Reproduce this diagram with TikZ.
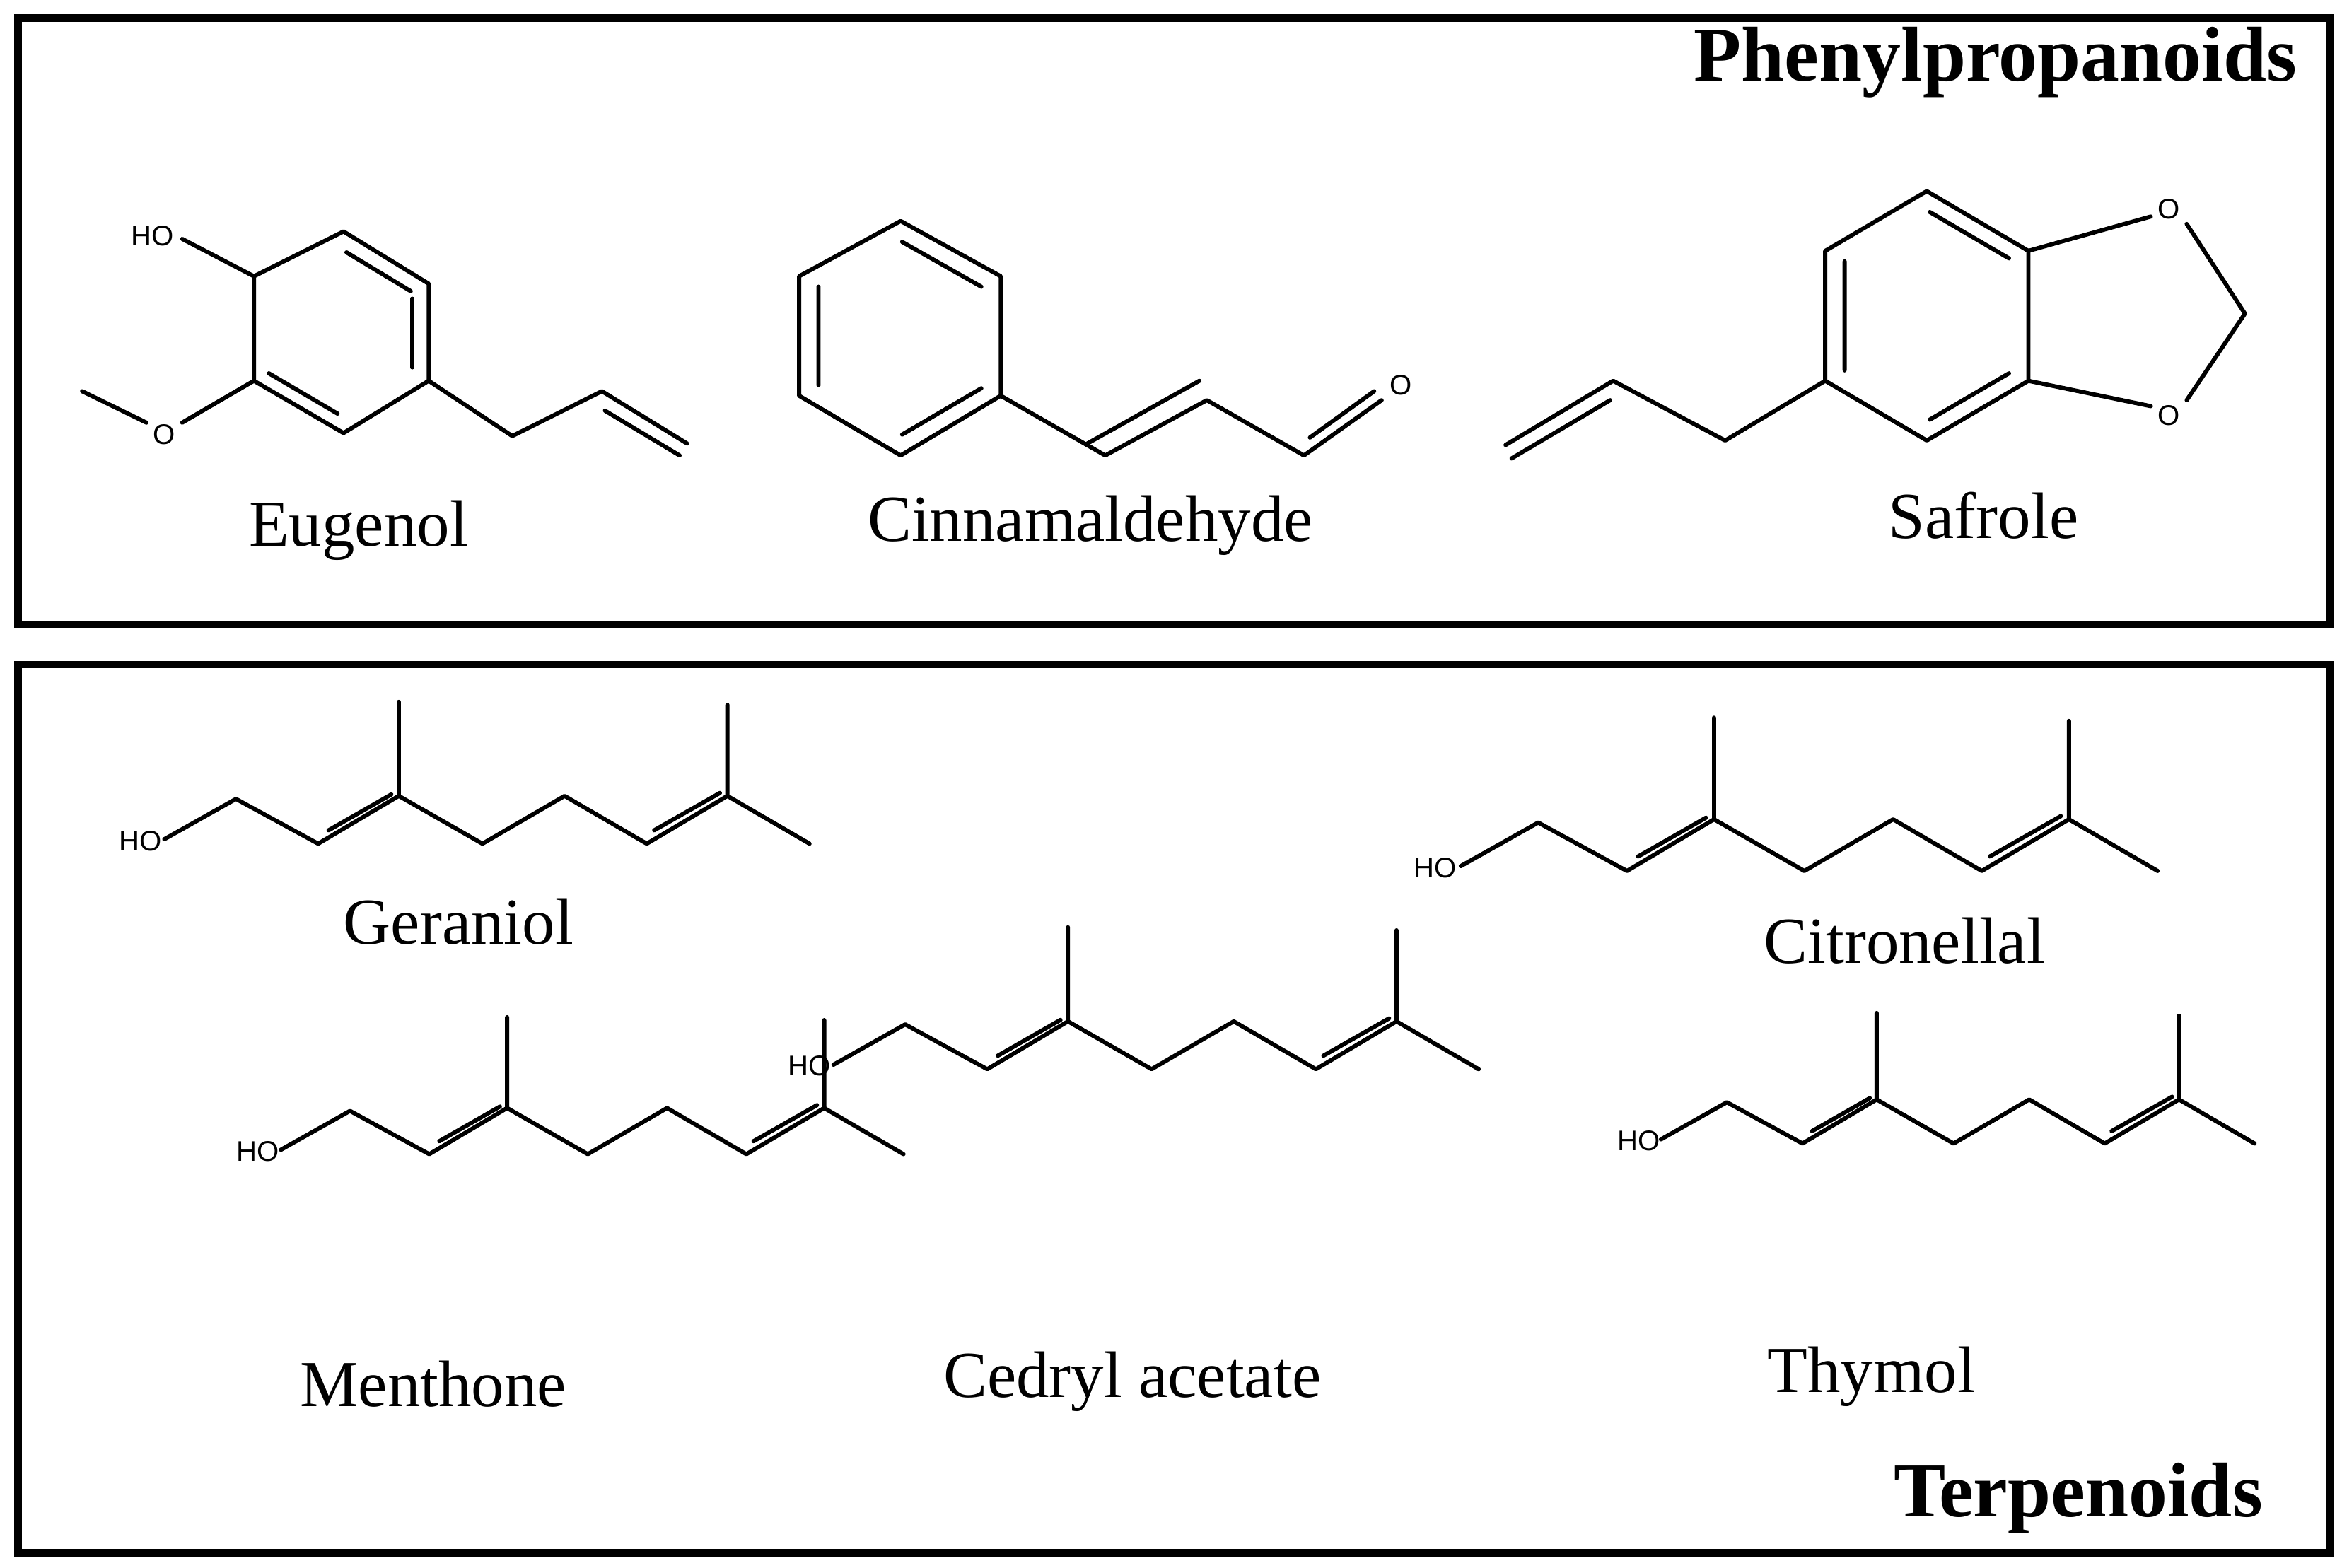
\documentclass[tikz,border=0pt]{standalone}
\usepackage{fontspec}
\setmainfont{Liberation Serif}
\newfontfamily\atomfont{Liberation Sans}
\tikzset{
  bond/.style={line width=2.8pt, line cap=round, line join=round},
  frame/.style={line width=5pt},
  atom/.style={font=\atomfont\fontsize{19}{19}\selectfont, inner sep=0pt},
  lbl/.style={font=\fontsize{44}{44}\selectfont, inner sep=0pt},
  ttl/.style={font=\bfseries\fontsize{52}{52}\selectfont, inner sep=0pt},
  pics/terp/.style={code={
    \draw[bond] (0,0)--(48,-27)--(103,3)--(157,-29)--(157,-92);
    \draw[bond] (157,-29)--(213,3)--(268,-29)--(323,3)--(377,-29)--(377,-90);
    \draw[bond] (377,-29)--(432,3);
    \draw[bond] (110,-6)--(152,-30);
    \draw[bond] (328,-6)--(372,-31);
    \node[atom] at (-16,1) {HO};
  }}
}
\begin{document}
\begin{tikzpicture}[x=1pt,y=-1pt]
\useasboundingbox (0,0) rectangle (1568,1050);
\fill[white] (0,0) rectangle (1568,1050);
\draw[frame] (12,12) rectangle (1560,418);
\draw[frame] (12,445) rectangle (1560,1040);
\node[ttl, anchor=east] (t1) at (1538,42) {Phenylpropanoids};
\node[ttl, anchor=east] (t2) at (1515,1003) {Terpenoids};
% Eugenol
\draw[bond] (170,185)--(230,155)--(287,190)--(287,255)--(230,290)--(170,255)--cycle;
\draw[bond] (232,169)--(275,195) (276,200)--(276,246) (180,250)--(226,277);
\draw[bond] (170,185)--(122,160);
\draw[bond] (170,255)--(122,283);
\draw[bond] (98,283)--(55,262);
\draw[bond] (287,255)--(343,292)--(403,262)--(460,297);
\draw[bond] (405,275)--(455,305);
\node[atom] (ho1) at (102,158) {HO};
\node[atom] (o1) at (110,291) {O};
\node[lbl] (n1) at (240,355) {Eugenol};
% Cinnamaldehyde
\draw[bond] (535,185)--(603,148)--(670,185)--(670,265)--(603,305)--(535,265)--cycle;
\draw[bond] (548,192)--(548,258) (604,162)--(657,192) (657,260)--(604,291);
\draw[bond] (670,265)--(740,305)--(808,268)--(873,305)--(925,268);
\draw[bond] (728,297)--(803,255);
\draw[bond] (877,293)--(920,262);
\node[atom] (o2) at (938,258) {O};
\node[lbl] (n2) at (730,352) {Cinnamaldehyde};
% Safrole
\draw[bond] (1222,168)--(1290,128)--(1358,168)--(1358,255)--(1290,295)--(1222,255)--cycle;
\draw[bond] (1235,175)--(1235,248) (1292,142)--(1345,173) (1345,250)--(1292,281);
\draw[bond] (1358,168)--(1440,145) (1464,150)--(1503,210)--(1464,268) (1358,255)--(1440,272);
\draw[bond] (1222,255)--(1155,295)--(1080,255)--(1008,298);
\draw[bond] (1078,268)--(1012,307);
\node[atom] (o3) at (1452,140) {O};
\node[atom] (o4) at (1452,278) {O};
\node[lbl] (n3) at (1328,345) {Safrole};
% Terpenoids
\pic at (110,562) {terp};
\node[lbl] (n4) at (307,617) {Geraniol};
\pic[scale=1.08] at (978,580) {terp};
\node[lbl] (n5) at (1275,630) {Citronellal};
\pic[scale=0.965] at (188,770) {terp};
\node[lbl] (n6) at (290,927) {Menthone};
\pic at (558,713) {terp};
\node[lbl] (n7) at (758,925) {Cedryl acetate};
\pic[scale=0.92] at (1112,763) {terp};
\node[lbl] (n8) at (1253,922) {Thymol};
\end{tikzpicture}
\end{document}
